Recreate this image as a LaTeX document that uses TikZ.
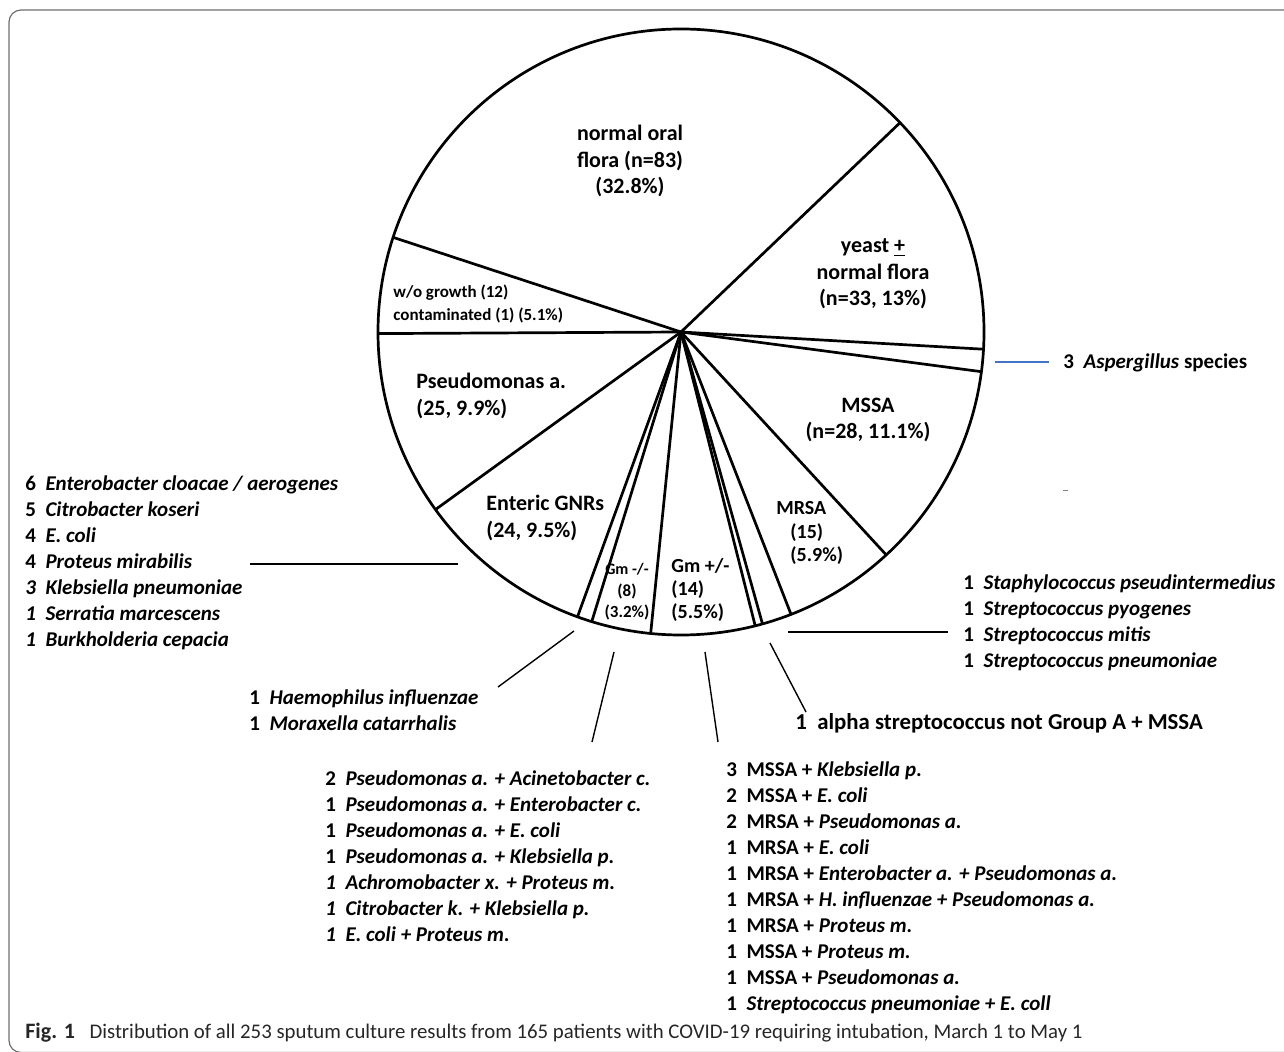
\documentclass[tikz,border=0pt]{standalone}
\usepackage{fontspec}
\setmainfont{Carlito}
\usetikzlibrary{positioning,calc}

\definecolor{asperblue}{RGB}{68,114,196}
\definecolor{framegray}{RGB}{110,110,110}

\tikzset{
  wedge/.style={line width=1.35pt, line join=round},
  ptr/.style={line width=0.7pt},
  lbl/.style={font=\bfseries\fontsize{11}{13.25}\selectfont, align=center, inner sep=0pt},
  lbls/.style={font=\bfseries\fontsize{10}{11.6}\selectfont, align=center, inner sep=0pt},
  lst/.style={font=\bfseries\fontsize{10.5}{13}\selectfont, align=left, anchor=north west, inner sep=0pt},
}

\begin{document}
\begin{tikzpicture}[x=0.5pt,y=0.5pt]
  \useasboundingbox (0,0) rectangle (1284,-1052);

  % frame
  \draw[framegray, line width=0.6pt, rounded corners=6pt]
    (1290,-10) -- (9,-10) -- (9,-1052.5) -- (1290,-1052.5);

  % pie
  \coordinate (c) at (681,-332);
  \draw[wedge] (c) circle (303);
  \foreach \n in {0,83,116,119,147,162,166,167,181,189,191,215,240}
    \draw[wedge] (c) -- ++({161.8-1.42292*\n}:303);

  % slice labels
  \node[lbl] (oral) at (630,-161) {normal oral\\flora (n=83)\\(32.8\%)};
  \node[lbl] (yeast) at (873,-274) {yeast \underline{+}\\normal flora\\(n=33, 13\%)};
  \node[lbl, font=\bfseries\fontsize{8.5}{11.75}\selectfont, align=left, anchor=west] (nogrowth)
    at (393,-304) {w/o growth (12)\\contaminated (1) (5.1\%)};
  \node[lbl, align=left, anchor=west] (pseudo) at (416,-396) {Pseudomonas a.\\(25, 9.9\%)};
  \node[lbl, align=left, anchor=west] (enteric) at (486,-518) {Enteric GNRs\\(24, 9.5\%)};
  \node[lbl] (mssa) at (868,-420) {MSSA\\(n=28, 11.1\%)};
  \node[lbls, align=left, anchor=west] (mrsa) at (790,-533) {\hspace*{-7pt}MRSA\\(15)\\(5.9\%)};
  \node[lbls, align=left, anchor=west] (gmpos) at (671,-590) {Gm +/-\\(14)\\(5.5\%)};
  \node[lbls, font=\bfseries\fontsize{8.5}{10.75}\selectfont] (gmneg) at (627,-592)
    {{\fontsize{8}{10.75}\selectfont Gm -/-}\\(8)\\(3.2\%)};

  % lists
  \node[lst] (entlist) at (25,-475) {6~~\textit{Enterobacter cloacae / aerogenes}\\
    5~~\textit{Citrobacter koseri}\\
    4~~\textit{E. coli}\\
    4~~\textit{Proteus mirabilis}\\
    \textit{3~~Klebsiella pneumoniae}\\
    \textit{1~~Serratia marcescens}\\
    \textit{1~~Burkholderia cepacia}};
  \node[lst, anchor=west] (asper) at (1063,-363) {3~~\textit{Aspergillus} species};
  \node[lst] (streplist) at (963,-574) {1~~\textit{Staphylococcus pseudintermedius}\\
    1~~\textit{Streptococcus pyogenes}\\
    1~~\textit{Streptococcus mitis}\\
    1~~\textit{Streptococcus pneumoniae}};
  \node[lst, font=\bfseries\fontsize{11.4}{13}\selectfont] (alpha) at (795,-713)
    {1~~alpha streptococcus not Group A + MSSA};
  \node[lst] (haemo) at (249,-689) {1~~\textit{Haemophilus influenzae}\\
    1~~\textit{Moraxella catarrhalis}};
  \node[lst] (gnlist) at (325,-770) {2~~\textit{Pseudomonas a. + Acinetobacter c.}\\
    1~~\textit{Pseudomonas a. + Enterobacter c.}\\
    1~~\textit{Pseudomonas a. + E. coli}\\
    1~~\textit{Pseudomonas a. + Klebsiella p.}\\
    \textit{1~~Achromobacter x. + Proteus m.}\\
    \textit{1~~Citrobacter k. + Klebsiella p.}\\
    \textit{1~~E. coli + Proteus m}.};
  \node[lst] (gplist) at (726,-761) {3~~MSSA + \textit{Klebsiella p}.\\
    2~~MSSA + \textit{E. coli}\\
    2~~MRSA + \textit{Pseudomonas a.}\\
    1~~MRSA + \textit{E. coli}\\
    1~~MRSA + \textit{Enterobacter a. + Pseudomonas a.}\\
    1~~MRSA + \textit{H. influenzae + Pseudomonas a.}\\
    1~~MRSA + \textit{Proteus m.}\\
    1~~MSSA + \textit{Proteus m.}\\
    1~~MSSA + \textit{Pseudomonas a.}\\
    1~~\textit{Streptococcus pneumoniae + E. coll}};

  % pointer lines
  \coordinate (asp-a) at (995,-362);
  \coordinate (asp-b) at (1049,-362);
  \draw[asperblue, line width=1pt] (asp-a) -- (asp-b);
  \coordinate (ent-a) at (458,-564);
  \coordinate (ent-b) at (250,-564);
  \draw[ptr] (ent-a) -- (ent-b);
  \coordinate (str-a) at (788,-632);
  \coordinate (str-b) at (948,-632);
  \draw[ptr] (str-a) -- (str-b);
  \coordinate (alp-a) at (770,-643);
  \coordinate (alp-b) at (806,-712);
  \draw[ptr] (alp-a) -- (alp-b);
  \coordinate (hae-a) at (574,-631);
  \coordinate (hae-b) at (498,-687);
  \draw[ptr] (hae-a) -- (hae-b);
  \coordinate (gn-a) at (614,-652);
  \coordinate (gn-b) at (592,-742);
  \draw[ptr] (gn-a) -- (gn-b);
  \coordinate (gp-a) at (705,-652);
  \coordinate (gp-b) at (718,-742);
  \draw[ptr] (gp-a) -- (gp-b);
  \draw[gray, line width=0.4pt] (1063,-490) -- (1068,-490);

  % caption
  \node[anchor=west, inner sep=0pt, font=\fontsize{10.4}{12}\selectfont, text=black!85] (cap) at (25,-1033)
    {\textbf{\fontsize{11}{12}\selectfont Fig. 1}\hspace{0.7em}Distribution of all 253 sputum culture results from 165 patients with COVID-19 requiring intubation, March 1 to May 1};
\end{tikzpicture}
\end{document}
